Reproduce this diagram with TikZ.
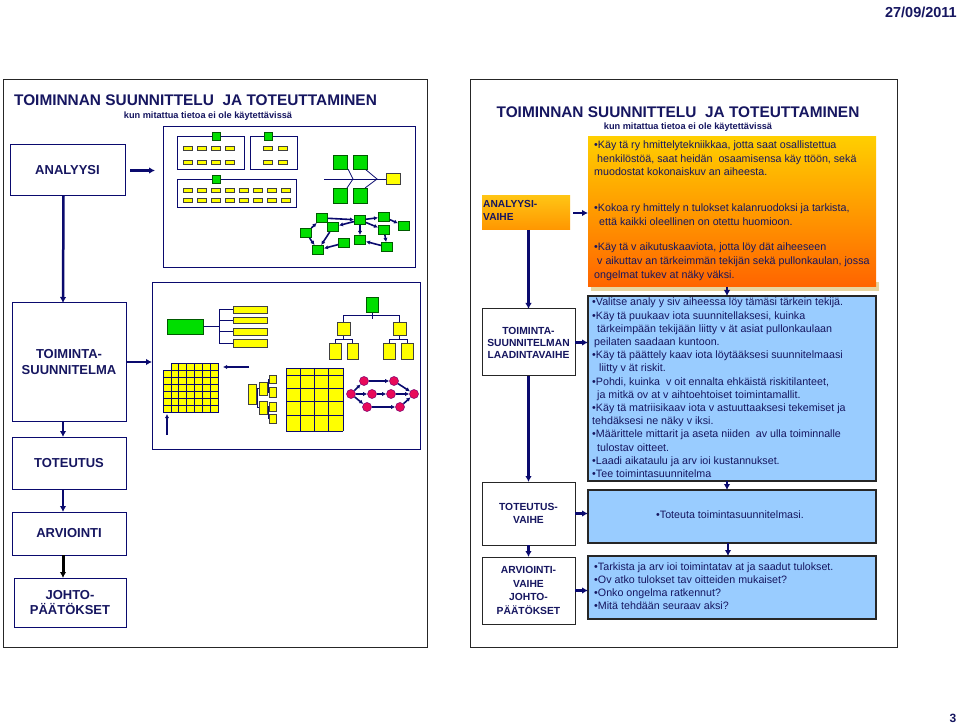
\documentclass[tikz,border=0pt]{standalone}
\usepackage{fontspec}
\setmainfont{Liberation Sans}
\usetikzlibrary{arrows.meta}
\definecolor{navy}{RGB}{22,22,96}
\definecolor{lineblue}{RGB}{10,10,110}
\definecolor{gr}{RGB}{0,222,0}
\definecolor{grd}{RGB}{0,90,0}
\definecolor{yl}{RGB}{255,255,0}
\definecolor{lblue}{RGB}{153,204,255}
\definecolor{pertred}{RGB}{232,10,90}
\definecolor{pertb}{RGB}{120,0,110}
\begin{document}
\begin{tikzpicture}[x=1pt,y=-1pt,
  frame/.style={draw=black!85, line width=1pt, fill=white, inner sep=0, outer sep=0},
  lbox/.style={draw=lineblue, line width=1pt, fill=white, inner sep=0, outer sep=0, align=center,
     text=navy, font=\fontsize{13}{15.5}\selectfont\bfseries},
  rbox/.style={draw=black!85, line width=1pt, fill=white, inner sep=0, outer sep=0, align=center,
     text=navy, font=\fontsize{10.3}{13.2}\selectfont\bfseries},
  bluebox/.style={draw=black!85, line width=1.3pt, fill=lblue, inner sep=0, outer sep=0},
  dbox/.style={draw=lineblue, line width=1pt, fill=white, inner sep=0, outer sep=0},
  gbox/.style={draw=lineblue, line width=0.8pt, fill=white},
  grn/.style={draw=grd, fill=gr, line width=0.5pt},
  ylw/.style={draw=black!75, fill=yl, line width=0.5pt},
  net/.style={grn, minimum width=11pt, minimum height=9pt, inner sep=0, outer sep=0.5pt},
  pert/.style={circle, draw=pertb, fill=pertred, line width=0.5pt, minimum size=9pt, inner sep=0, outer sep=0.3pt},
  thin/.style={draw=lineblue, line width=0.8pt},
  narr/.style={-{Latex[length=4pt,width=4.2pt]}, draw=lineblue, line width=1.6pt},
  arr/.style={-{Latex[length=6pt,width=6.5pt]}, draw=lineblue, line width=2.5pt},
  txt/.style={anchor=west, inner sep=0, text=navy, font=\fontsize{10.7}{12}\selectfont,
     text height=7.6pt, text depth=2.3pt},
  ttl/.style={text=navy, inner sep=0, font=\fontsize{15.4}{17}\selectfont\bfseries},
  sub/.style={text=navy, inner sep=0, font=\fontsize{9.2}{11}\selectfont\bfseries}
]
\useasboundingbox (0,0) rectangle (959,727);
\fill[white] (0,0) rectangle (959,727);

% date and page number
\node[anchor=east, inner sep=0, text=navy, font=\fontsize{14.5}{16}\selectfont\bfseries] (date) at (957,12) {27/09/2011};
\node[inner sep=0, text=navy, font=\fontsize{12}{14}\selectfont\bfseries] (pagenum) at (953,718) {3};

% ---------------- left panel ----------------
\node[frame, minimum width=424pt, minimum height=567pt] (frameL) at (215,363.5) {};
\node[ttl] (titleL) at (195.5,100) {TOIMINNAN SUUNNITTELU~ JA TOTEUTTAMINEN};
\node[sub] (subL) at (208,116) {kun mitattua tietoa ei ole käytettävissä};

\node[lbox, minimum width=115pt, minimum height=51pt] (analyysi) at (67.5,170.5) {ANALYYSI};
\node[lbox, minimum width=114pt, minimum height=118pt] (toim) at (69,362) {TOIMINTA-\\SUUNNITELMA};
\node[lbox, minimum width=114pt, minimum height=52pt] (toteutus) at (69,463) {TOTEUTUS};
\node[lbox, minimum width=114pt, minimum height=43pt] (arviointi) at (69,533.5) {ARVIOINTI};
\node[lbox, minimum width=112pt, minimum height=49pt] (johto) at (70,602.5) {JOHTO-\\PÄÄTÖKSET};

\node[dbox, minimum width=252pt, minimum height=141pt] (box1) at (289,197.5) {};
\node[dbox, minimum width=268pt, minimum height=166pt] (box2) at (286,366) {};

\draw[arr] ([xshift=-4pt]analyysi.south) -- ([xshift=-6pt]toim.north);
\draw[arr] ([xshift=-6pt]toim.south) -- ([xshift=-6pt]toteutus.north);
\draw[arr] ([xshift=-6pt]toteutus.south) -- ([xshift=-6pt]arviointi.north);
\draw[arr, draw=black, line width=3pt] ([xshift=-6pt]arviointi.south) -- ([xshift=-7pt]johto.north);
\draw[arr, shorten <=5pt, shorten >=8pt] (analyysi.east) -- (analyysi.east -| box1.west);
\draw[arr] (toim.east) -- (toim.east -| box2.west);

% ---- box1 contents ----
\draw[gbox] (177,136) rectangle (244,169);
\draw[grn] (212,132) rectangle (220,140);
\foreach \x in {183,197,211,225} \foreach \y in {146,160} \draw[ylw] (\x,\y) rectangle ++(9,4);
\draw[gbox] (250,136) rectangle (297,169);
\draw[grn] (264,132) rectangle (272,140);
\foreach \x in {263,278} \foreach \y in {146,160} \draw[ylw] (\x,\y) rectangle ++(9,4);
\draw[gbox] (177,179) rectangle (296,207);
\draw[grn] (212,175) rectangle (220,183);
\foreach \i in {0,...,7} \foreach \y in {188,198} \draw[ylw] (183+14.1*\i,\y) rectangle ++(9,4);

% fishbone
\draw[thin] (324,179) -- (386,179);
\draw[thin] (348,169) -- (353,179) -- (347,188);
\draw[thin] (365,169) -- (377,179) -- (365,188);
\draw[ylw] (386,173) rectangle (400,184);
\draw[grn] (333,155) rectangle (347,169);
\draw[grn] (353,155) rectangle (367,169);
\draw[grn] (333,188) rectangle (347,203);
\draw[grn] (353,188) rectangle (367,203);

% network
\node[net] (n1) at (322,218) {};
\node[net] (n2) at (333,227) {};
\node[net] (n3) at (306,233) {};
\node[net] (n4) at (318,250) {};
\node[net] (n5) at (344,243) {};
\node[net] (n6) at (360,220) {};
\node[net] (n7) at (360,240) {};
\node[net] (n8) at (384,217) {};
\node[net] (n9) at (384,230) {};
\node[net] (n10) at (404,226) {};
\node[net] (n11) at (387,247) {};
\draw[narr] (n3) -- (n1);
\draw[narr] (n1) -- (n6);
\draw[narr] (n6) -- (n2);
\draw[narr] (n2) -- (n4);
\draw[narr] (n3) -- (n4);
\draw[narr] (n5) -- (n4);
\draw[narr] (n6) -- (n8);
\draw[narr] (n8) -- (n10);
\draw[narr] (n6) -- (n9);
\draw[narr] (n6) -- (n7);
\draw[narr] (n9) -- (n11);
\draw[narr] (n11) -- (n7);

% ---- box2 contents ----
% tree list
\draw[thin] (203,326) -- (219,326);
\draw[thin] (219,309.5) -- (219,343);
\foreach \y in {309.5,320,331.5,343} \draw[thin] (219,\y) -- (233,\y);
\draw[grn] (167,319) rectangle (203,334);
\draw[ylw] (233,306) rectangle (267,313);
\draw[ylw] (233,317) rectangle (267,323);
\draw[ylw] (233,328) rectangle (267,335);
\draw[ylw] (233,339) rectangle (267,347);

% org chart
\draw[thin] (372,312) -- (372,319);
\draw[thin] (343.5,322) -- (343.5,315) -- (399.5,315) -- (399.5,322);
\draw[thin] (343.5,335) -- (343.5,339);
\draw[thin] (335,343) -- (335,339) -- (352.5,339) -- (352.5,343);
\draw[thin] (399.5,335) -- (399.5,339);
\draw[thin] (389,343) -- (389,339) -- (407,339) -- (407,343);
\draw[grn] (366,297) rectangle (378,312);
\draw[ylw] (337,322) rectangle (350,335);
\draw[ylw] (393,322) rectangle (406,335);
\draw[ylw] (329,343) rectangle (341,359);
\draw[ylw] (347,343) rectangle (358,359);
\draw[ylw] (383,343) rectangle (395,359);
\draw[ylw] (401,343) rectangle (413,359);

% small matrix
\foreach \c in {1,...,6} \draw[ylw, draw=lineblue] (163+7.86*\c,363) rectangle ++(7.86,7);
\foreach \r in {1,...,6} \foreach \c in {0,...,6} \draw[ylw, draw=lineblue] (163+7.86*\c,363+7*\r) rectangle ++(7.86,7);
\draw[narr, line width=2pt] (249,367) -- (223,367);
\draw[narr, line width=2pt] (167,435) -- (167,414);

% decision tree
\draw[thin, line width=0.6pt] (256,392) -- (257.5,392) -- (257.5,388.5) -- (259,388.5);
\draw[thin, line width=0.6pt] (257.5,392) -- (257.5,407.5) -- (259,407.5);
\draw[thin, line width=0.6pt] (267,388.5) -- (268,388.5) -- (268,379) -- (269,379);
\draw[thin, line width=0.6pt] (268,388.5) -- (268,392) -- (269,392);
\draw[thin, line width=0.6pt] (267,407.5) -- (268,407.5) -- (268,406.5) -- (269,406.5);
\draw[thin, line width=0.6pt] (268,407.5) -- (268,418.5) -- (269,418.5);
\draw[ylw] (248,384) rectangle (256,404);
\draw[ylw] (259,382) rectangle (267,395);
\draw[ylw] (259,401) rectangle (267,414);
\draw[ylw] (269,375) rectangle (276,383);
\draw[ylw] (269,387) rectangle (276,397);
\draw[ylw] (269,402) rectangle (276,411);
\draw[ylw] (269,414) rectangle (276,423);

% big matrix
\fill[yl] (286,368) rectangle (343,431);
\foreach \x in {286,300.25,314.5,328.75,343} \draw[thin] (\x,368) -- (\x,431);
\foreach \y in {368,375,388,401,415,431} \draw[thin] (286,\y) -- (343,\y);

% PERT
\node[pert] (p1) at (351,394) {};
\node[pert] (p2) at (364,381) {};
\node[pert] (p3) at (372,394) {};
\node[pert] (p4) at (367,407) {};
\node[pert] (p5) at (394,381) {};
\node[pert] (p6) at (391,394) {};
\node[pert] (p7) at (400,407) {};
\node[pert] (p8) at (414,394) {};
\draw[narr] (p1) -- (p2);
\draw[narr] (p1) -- (p3);
\draw[narr] (p1) -- (p4);
\draw[narr] (p2) -- (p5);
\draw[narr] (p3) -- (p6);
\draw[narr] (p4) -- (p7);
\draw[narr] (p5) -- (p8);
\draw[narr] (p6) -- (p8);
\draw[narr] (p7) -- (p8);

% ---------------- right panel ----------------
\node[frame, minimum width=427pt, minimum height=567pt] (frameR) at (683.5,363.5) {};
\node[ttl] (titleR) at (678,112) {TOIMINNAN SUUNNITTELU~ JA TOTEUTTAMINEN};
\node[sub] (subR) at (688,127) {kun mitattua tietoa ei ole käytettävissä};

\fill[black!35!yellow!60!orange, opacity=0.45] (591,282) rectangle (879,291);
\node[inner sep=0, outer sep=0, minimum width=288pt, minimum height=150pt,
  top color={rgb,255:red,255;green,206;blue,0}, bottom color={rgb,255:red,255;green,100;blue,0}] (orange) at (732,212) {};
\node[inner sep=0, outer sep=0, minimum width=88pt, minimum height=34pt,
  top color={rgb,255:red,255;green,196;blue,20}, bottom color={rgb,255:red,255;green,150;blue,0}] (av) at (526,213) {};
\node[anchor=west, inner sep=0, align=left, text=navy, font=\fontsize{10.2}{13}\selectfont\bfseries] (avtext) at (483,210.5) {ANALYYSI-\\VAIHE};

\node[rbox, minimum width=93pt, minimum height=67pt, font=\fontsize{10.3}{12}\selectfont\bfseries] (laad) at (528.5,342.5) {TOIMINTA-\\SUUNNITELMAN\\LAADINTAVAIHE};
\node[rbox, minimum width=93pt, minimum height=63pt] (totv) at (528.5,513.5) {TOTEUTUS-\\VAIHE};
\node[rbox, minimum width=93pt, minimum height=67pt, font=\fontsize{10.3}{13.6}\selectfont\bfseries] (arvv) at (528.5,590.5) {ARVIOINTI-\\VAIHE\\JOHTO-\\PÄÄTÖKSET};

\node[bluebox, minimum width=288pt, minimum height=185pt] (blue1) at (732,388.5) {};
\node[bluebox, minimum width=288pt, minimum height=53pt] (blue2) at (732,516.5) {};
\node[bluebox, minimum width=288pt, minimum height=63pt] (blue3) at (732,587.5) {};

% right arrows
\draw[arr, shorten <=3pt] (av.east) -- (av.east -| orange.west);
\draw[arr] (av.south -| laad.north) -- (laad.north);
\draw[arr] (laad.south) -- (totv.north);
\draw[arr] (totv.south) -- (arvv.north);
\draw[arr] (laad.east) -- (laad.east -| blue1.west);
\draw[arr] (totv.east) -- (totv.east -| blue2.west);
\draw[arr] (arvv.east) -- (arvv.east -| blue3.west);
\draw[arr] ([xshift=-5pt]orange.south) -- ([xshift=-5pt]blue1.north);
\draw[arr] ([xshift=-5pt]blue1.south) -- ([xshift=-5pt]blue2.north);
\draw[arr] ([xshift=-4pt]blue2.south) -- ([xshift=-4pt]blue3.north);

% orange texts
\node[txt] (o1) at (594,146) {•Käy tä ry hmittelytekniikkaa, jotta saat osallistettua};
\node[txt] (o2) at (597,159.5) {henkilöstöä, saat heidän~ osaamisensa käy ttöön, sekä};
\node[txt] (o3) at (594,173) {muodostat kokonaiskuv an aiheesta.};
\node[txt] (o4) at (594,209) {•Kokoa ry hmittely n tulokset kalanruodoksi ja tarkista,};
\node[txt] (o5) at (599,222.5) {että kaikki oleellinen on otettu huomioon.};
\node[txt] (o6) at (594,248) {•Käy tä v aikutuskaaviota, jotta löy dät aiheeseen};
\node[txt] (o7) at (597,262) {v aikuttav an tärkeimmän tekijän sekä pullonkaulan, jossa};
\node[txt] (o8) at (594,276) {ongelmat tukev at näky väksi.};

% blue1 texts
\node[txt] (b1) at (592,303.2) {•Valitse analy y siv aiheessa löy tämäsi tärkein tekijä.};
\node[txt] (b2) at (592,316.4) {•Käy tä puukaav iota suunnitellaksesi, kuinka};
\node[txt] (b3) at (597,329.6) {tärkeimpään tekijään liitty v ät asiat pullonkaulaan};
\node[txt] (b4) at (594,342.8) {peilaten saadaan kuntoon.};
\node[txt] (b5) at (592,356) {•Käy tä päättely kaav iota löytääksesi suunnitelmaasi};
\node[txt] (b6) at (599,369.2) {liitty v ät riskit.};
\node[txt] (b7) at (592,382.4) {•Pohdi, kuinka~ v oit ennalta ehkäistä riskitilanteet,};
\node[txt] (b8) at (597,395.6) {ja mitkä ov at v aihtoehtoiset toimintamallit.};
\node[txt] (b9) at (592,408.8) {•Käy tä matriisikaav iota v astuuttaaksesi tekemiset ja};
\node[txt] (b10) at (592,422) {tehdäksesi ne näky v iksi.};
\node[txt] (b11) at (592,435.2) {•Määrittele mittarit ja aseta niiden~ av ulla toiminnalle};
\node[txt] (b12) at (597,448.4) {tulostav oitteet.};
\node[txt] (b13) at (592,461.6) {•Laadi aikataulu ja arv ioi kustannukset.};
\node[txt] (b14) at (592,474.6) {•Tee toimintasuunnitelma};

% blue2 text
\node[txt, anchor=center] (c1) at (730,516) {•Toteuta toimintasuunnitelmasi.};

% blue3 texts
\node[txt] (d1) at (594,568) {•Tarkista ja arv ioi toimintatav at ja saadut tulokset.};
\node[txt] (d2) at (594,581) {•Ov atko tulokset tav oitteiden mukaiset?};
\node[txt] (d3) at (594,594) {•Onko ongelma ratkennut?};
\node[txt] (d4) at (594,607) {•Mitä tehdään seuraav aksi?};
\end{tikzpicture}
\end{document}
